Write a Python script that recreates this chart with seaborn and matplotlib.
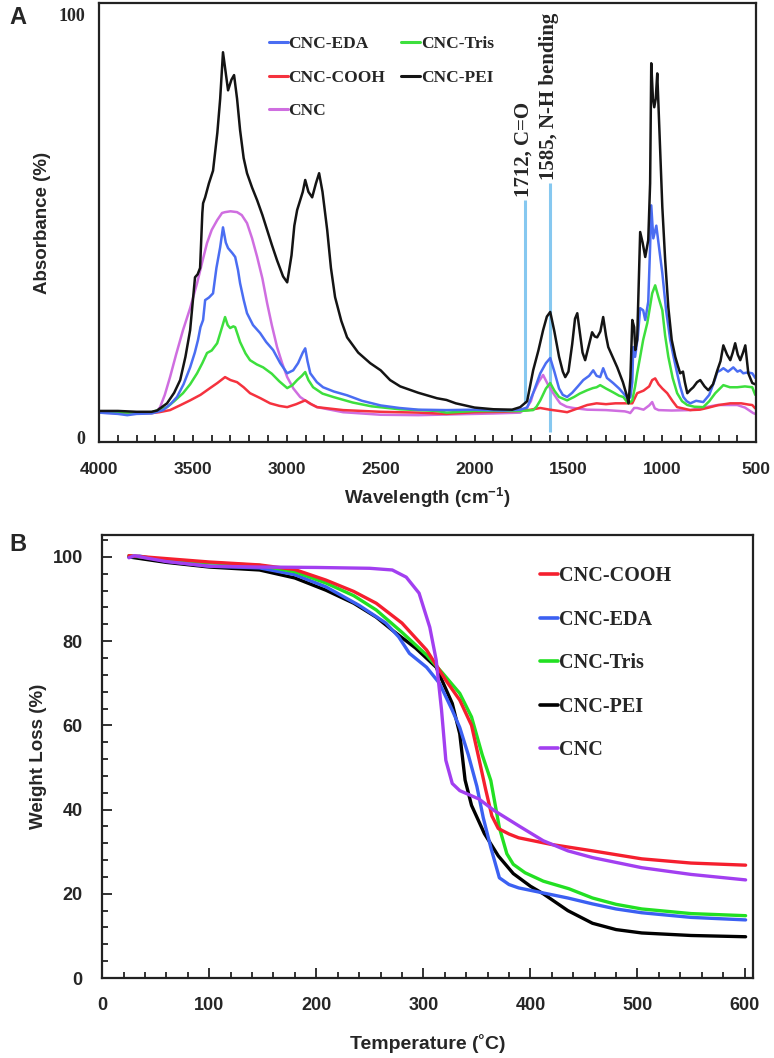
import numpy as np
import pandas as pd
import matplotlib.pyplot as plt
import seaborn as sns
from matplotlib.lines import Line2D
from matplotlib.ticker import MultipleLocator

# ---- Panel A: FTIR spectra ----
pei_wn = [4000, 3900, 3800, 3720, 3691, 3638, 3600, 3568, 3540, 3515, 3489, 3475, 3462, 3450, 3446, 3435,
          3415, 3393, 3370, 3355, 3340, 3325, 3313, 3295, 3281, 3265, 3249, 3230, 3212, 3185, 3158, 3130,
          3105, 3080, 3052, 3020, 2998, 2975, 2960, 2945, 2929, 2915, 2902, 2885, 2865, 2845, 2828, 2810,
          2785, 2765, 2743, 2710, 2679, 2620, 2556, 2500, 2450, 2396, 2300, 2200, 2150, 2100, 2000, 1900,
          1800, 1757, 1720, 1688, 1660, 1635, 1615, 1597, 1575, 1550, 1530, 1517, 1500, 1480, 1465, 1453,
          1440, 1425, 1411, 1395, 1374, 1360, 1347, 1330, 1315, 1300, 1288, 1265, 1240, 1210, 1187, 1180,
          1170, 1160, 1150, 1144, 1134, 1118, 1105, 1091, 1075, 1065, 1059, 1050, 1043, 1035, 1027, 1015,
          1000, 985, 968, 950, 931, 918, 905, 890, 880, 867, 850, 835, 815, 798, 775, 755, 730, 707, 690,
          675, 655, 638, 625, 612, 598, 585, 570, 558, 542, 521, 505]
pei_abs = [6.2, 6.2, 6.0, 6.0, 6.3, 8, 10.5, 13.5, 19, 25.3, 37.8, 38.5, 40, 53, 55.3, 56.7,
           60, 63, 72, 80, 91, 86, 82, 84.5, 85.6, 80, 72.6, 66, 62.4, 59, 56, 52.5,
           49, 45.5, 41.8, 38, 36.6, 43, 50, 53.7, 56, 58, 60.8, 58, 56.7, 60, 62.4, 58,
           49, 40, 33.1, 27.5, 23.6, 20, 17.5, 15.8, 13.5, 12, 10.5, 9.2, 8.8, 8.0, 7.0, 6.6,
           6.5, 7.1, 8.5, 15.8, 20.5, 25.3, 28.5, 29.6, 25, 19, 15.5, 14.2, 15.5, 22, 28, 29.3,
           25, 20, 18.2, 21, 24.8, 23.8, 23.6, 25, 28.4, 24, 21.3, 19, 16.5, 13, 9.5, 8,
           14, 27.7, 26, 20.6, 23, 48.5, 46, 42.6, 46.6, 60, 88.4, 80, 78, 80, 86, 72,
           54.4, 42, 30.7, 23, 19, 17, 15.1, 15.5, 13, 10.4, 11.2, 11.8, 13, 13.5, 12, 11.1, 12.5, 15.8, 18,
           21.7, 19.5, 18.2, 20, 22.2, 19.5, 18.2, 20, 21.7, 15.1, 12.8, 12.5]

eda_wn = [4000, 3900, 3850, 3800, 3720, 3659, 3620, 3585, 3550, 3515, 3490, 3473, 3460, 3446, 3435, 3415,
          3393, 3375, 3355, 3340, 3325, 3313, 3290, 3275, 3260, 3249, 3230, 3212, 3180, 3142, 3110, 3073,
          3035, 2998, 2980, 2966, 2940, 2915, 2902, 2890, 2875, 2840, 2807, 2750, 2679, 2600, 2500, 2400,
          2300, 2150, 2000, 1850, 1757, 1720, 1688, 1650, 1620, 1597, 1575, 1550, 1530, 1507, 1480, 1450,
          1421, 1390, 1368, 1350, 1331, 1315, 1295, 1262, 1230, 1208, 1182, 1170, 1160, 1155, 1145, 1130,
          1118, 1102, 1091, 1075, 1065, 1059, 1048, 1032, 1015, 1000, 980, 958, 940, 921, 905, 888, 870,
          851, 820, 782, 750, 725, 707, 690, 675, 650, 622, 600, 585, 569, 545, 521, 505]
eda_abs = [5.8, 5.5, 5.2, 5.5, 5.6, 6.4, 7.8, 9.5, 12.5, 16.5, 20, 23, 26, 27.7, 32.4, 33,
           34, 40, 44.9, 49.6, 46, 44.7, 43.5, 42.6, 39.5, 36.4, 32.5, 29.3, 26.5, 24.6, 22.5, 20.6,
           17.5, 15.1, 15.5, 15.8, 17.5, 20, 21, 18, 15.1, 13, 11.8, 10.8, 9.9, 8.6, 7.5, 6.9,
           6.5, 6.4, 6.5, 6.3, 6.5, 7.0, 10.4, 15.1, 17.5, 18.7, 15.5, 11.5, 10, 9.5, 10.5, 12,
           13.5, 14.5, 15.8, 14.5, 14.2, 16.3, 14, 12.8, 11.5, 10.4, 9, 9.5, 13, 21.3, 19, 24,
           30.5, 30, 27.7, 32, 45, 54.8, 47, 50, 44, 38.8, 30, 23, 19, 15.1, 12, 9.5, 8.5,
           8, 8.6, 8.3, 10, 13, 15.4, 15.8, 16.3, 15.5, 16.5, 15.5, 15.8, 15.1, 15.3, 15.1, 14]

tris_wn = [4000, 3850, 3720, 3638, 3600, 3553, 3515, 3478, 3450, 3425, 3400, 3371, 3345, 3329, 3315, 3302,
           3285, 3275, 3260, 3249, 3220, 3196, 3160, 3126, 3080, 3040, 2998, 2970, 2945, 2920, 2902, 2885,
           2860, 2810, 2753, 2650, 2550, 2400, 2200, 2150, 2000, 1850, 1757, 1720, 1688, 1670, 1650, 1620,
           1597, 1575, 1550, 1507, 1470, 1440, 1400, 1370, 1350, 1331, 1300, 1262, 1230, 1208, 1182, 1170,
           1160, 1145, 1134, 1118, 1102, 1080, 1065, 1054, 1038, 1020, 1000, 985, 968, 945, 921, 895, 867,
           830, 782, 750, 718, 700, 675, 640, 601, 560, 521, 505]
tris_abs = [6.0, 5.8, 5.9, 7.1, 8.5, 10.4, 12.5, 15.1, 17.5, 19.9, 20.5, 22.2, 26, 28.4, 26.5, 25.8,
            26.2, 26, 24, 22.5, 19.8, 18.2, 17.2, 16.5, 15, 13.2, 11.6, 12.3, 13.5, 14.5, 15.4, 13.5,
            11.8, 10.3, 9.5, 8.2, 7.3, 6.6, 6.2, 5.8, 6.2, 6.2, 6.2, 6.3, 6.4, 7.2, 8.7, 11.5,
            12.8, 11, 9.5, 8.7, 9.5, 10.3, 11.1, 11.6, 11.8, 12.3, 11.5, 10.6, 9.8, 9.5, 8, 8.3,
            8.7, 12, 15.1, 19, 23, 27, 31, 34, 35.9, 33, 30, 24, 19, 14, 10.4, 8.5, 7.6,
            7.2, 7.1, 8.5, 10.4, 11.2, 12.3, 11.8, 11.8, 12, 11.8, 10]

cooh_wn = [4000, 3850, 3720, 3680, 3622, 3570, 3515, 3460, 3409, 3370, 3329, 3300, 3265, 3230, 3196, 3140,
           3089, 3040, 2998, 2950, 2902, 2870, 2839, 2700, 2500, 2300, 2150, 2000, 1850, 1757, 1700, 1650,
           1600, 1550, 1507, 1450, 1400, 1350, 1300, 1250, 1208, 1182, 1160, 1134, 1100, 1070, 1054, 1038,
           1020, 1000, 974, 945, 921, 890, 851, 800, 761, 700, 638, 580, 540, 521, 505]
cooh_abs = [5.9, 5.6, 5.7, 5.9, 6.4, 7.5, 8.7, 10, 11.6, 12.8, 14.2, 13.5, 13, 11.8, 10.4, 9.2,
            8, 7.4, 7.1, 7.8, 8.7, 7.8, 7.1, 6.4, 6.0, 5.8, 5.5, 5.9, 6.0, 6.2, 6.5, 6.9,
            6.5, 6.2, 5.9, 6.8, 7.6, 8, 7.8, 8, 8, 8, 8, 10.4, 11, 12, 13.5, 13.9,
            12.5, 11.5, 10.4, 8.5, 7.1, 6.8, 6.4, 6.5, 6.9, 7.6, 8, 8, 7.7, 7.6, 6.8]

cnc_wn = [4000, 3850, 3720, 3690, 3675, 3650, 3622, 3590, 3553, 3515, 3478, 3450, 3425, 3400, 3371, 3345,
          3329, 3300, 3265, 3240, 3212, 3185, 3158, 3130, 3105, 3080, 3052, 3025, 2998, 2965, 2929, 2880,
          2839, 2700, 2500, 2300, 2100, 1900, 1757, 1720, 1700, 1688, 1660, 1635, 1610, 1581, 1560, 1544,
          1510, 1475, 1400, 1300, 1200, 1182, 1171, 1150, 1134, 1100, 1070, 1054, 1040, 1020, 950, 851,
          780, 707, 650, 601, 560, 516, 505]
cnc_abs = [5.8, 5.6, 5.8, 6.2, 7.1, 10, 14.2, 19.5, 25.3, 30.5, 36.4, 41.5, 45.9, 49, 51.3, 53,
           53.2, 53.4, 53.2, 52.5, 50.6, 47, 42.6, 37.5, 31.7, 26.5, 21.3, 17.5, 14.2, 11.5, 9.5, 8.0,
           7.1, 5.9, 5.3, 5.2, 5.4, 5.6, 5.8, 7.1, 8.5, 10.4, 13, 14.7, 12.5, 10.4, 9, 8,
           7.2, 6.9, 6.5, 6.4, 6.1, 5.9, 5.7, 6.9, 6.9, 6.5, 7.5, 8.3, 6.8, 6.4, 6.3, 6.4,
           7, 7.6, 7.6, 7.6, 7, 5.7, 5.5]

band_pos = [1730, 1598]
band_low = [8, 1.2]
band_high = [56, 60]
band_text = ['1712, C=O', '1585, N-H bending']

# ---- Panel B: TGA curves ----
cooh_t = [25, 60, 100, 147, 180, 209, 235, 256, 280, 303, 321, 334, 345, 352, 358, 364, 370, 380, 389,
          420, 458, 504, 550, 601]
cooh_w = [100.3, 99.6, 98.8, 98.1, 97, 94.5, 91.8, 89, 84.3, 77.9, 70.7, 66, 60, 52, 45, 38.5, 35.5,
          34.2, 33.3, 31.7, 30.2, 28.3, 27.3, 26.8]
eda_t = [25, 35, 60, 100, 147, 180, 209, 240, 265, 277, 287, 303, 315, 327, 334, 342, 350, 356, 363,
         371, 380, 389, 412, 435, 458, 480, 504, 550, 601]
eda_w = [100, 100.2, 99, 97.8, 97.4, 95.8, 92.9, 88.5, 84.3, 81, 77.1, 73.8, 70, 63.6, 59.5, 53, 45.5,
         38, 31, 23.8, 22.2, 21.4, 20.2, 19, 17.6, 16.4, 15.5, 14.4, 13.8]
tris_t = [25, 60, 100, 147, 180, 209, 235, 256, 280, 303, 318, 334, 345, 355, 363, 371, 378, 384, 395,
          412, 436, 458, 480, 504, 550, 601]
tris_w = [100.3, 99.3, 98.6, 98, 96.5, 93.8, 90.8, 87.4, 82.1, 76.7, 72.4, 67.6, 62, 53, 46.9, 35.7,
          29.5, 27, 25, 23, 21.2, 19, 17.5, 16.4, 15.3, 14.8]
pei_t = [25, 60, 100, 147, 180, 209, 235, 256, 271, 293, 312, 327, 334, 339, 345, 357, 370, 384, 400,
         412, 435, 458, 480, 504, 550, 601]
pei_w = [100, 98.7, 97.6, 96.9, 95, 92.1, 89, 85.7, 82.6, 78.3, 73.8, 65.2, 58, 47, 41, 34.3, 29, 24.8,
         21.8, 20, 16, 13, 11.5, 10.7, 10.1, 9.8]
cnc_t = [25, 30, 40, 60, 100, 147, 200, 250, 271, 284, 296, 306, 312, 317, 321, 327, 334, 352, 366,
         390, 412, 435, 458, 504, 550, 601]
cnc_w = [99.8, 100.3, 99.8, 98.9, 97.8, 97.6, 97.5, 97.3, 96.9, 95.2, 91.4, 83.3, 75.5, 63.6, 51.7,
         46.2, 44.5, 42.5, 39.8, 36, 32.6, 30.2, 28.6, 26.2, 24.6, 23.3]

# long tables for seaborn
df_a = pd.concat([
    pd.DataFrame({'wn': cnc_wn, 'abs': cnc_abs, 'sample': 'CNC'}),
    pd.DataFrame({'wn': cooh_wn, 'abs': cooh_abs, 'sample': 'CNC-COOH'}),
    pd.DataFrame({'wn': tris_wn, 'abs': tris_abs, 'sample': 'CNC-Tris'}),
    pd.DataFrame({'wn': eda_wn, 'abs': eda_abs, 'sample': 'CNC-EDA'}),
    pd.DataFrame({'wn': pei_wn, 'abs': pei_abs, 'sample': 'CNC-PEI'}),
])
df_b = pd.concat([
    pd.DataFrame({'t': pei_t, 'w': pei_w, 'sample': 'CNC-PEI'}),
    pd.DataFrame({'t': eda_t, 'w': eda_w, 'sample': 'CNC-EDA'}),
    pd.DataFrame({'t': tris_t, 'w': tris_w, 'sample': 'CNC-Tris'}),
    pd.DataFrame({'t': cooh_t, 'w': cooh_w, 'sample': 'CNC-COOH'}),
    pd.DataFrame({'t': cnc_t, 'w': cnc_w, 'sample': 'CNC'}),
])

colors_a = {'CNC-EDA': '#4a6df2', 'CNC-COOH': '#f5323e', 'CNC': '#cf6ee0',
            'CNC-Tris': '#3ddf3d', 'CNC-PEI': '#141414'}
colors_b = {'CNC-COOH': '#f51f2e', 'CNC-EDA': '#3b60f2', 'CNC-Tris': '#22e022',
            'CNC-PEI': '#000000', 'CNC': '#a23ff0'}

sns.set_style('white')
plt.rcParams['font.family'] = ['Liberation Sans', 'DejaVu Sans']
plt.rcParams['mathtext.fontset'] = 'custom'
plt.rcParams['mathtext.bf'] = 'Liberation Sans:bold'

fig = plt.figure(figsize=(7.74, 10.58), dpi=100)
ax1 = fig.add_axes([0.128, 0.582, 0.849, 0.415])
ax2 = fig.add_axes([0.132, 0.0756, 0.841, 0.4187])

serif_b = dict(family=['Liberation Serif', 'DejaVu Serif'], weight='bold')

# ---- A ----
sns.lineplot(data=df_a, x='wn', y='abs', hue='sample', palette=colors_a,
             hue_order=['CNC', 'CNC-COOH', 'CNC-Tris', 'CNC-EDA', 'CNC-PEI'],
             estimator=None, lw=1.8, legend=False, ax=ax1)
ax1.vlines(band_pos, band_low, band_high, colors='#86c8f0', lw=2.2, zorder=1)
for x, top, txt in zip(band_pos, band_high, band_text):
    ax1.text(x + 8, top + 0.8, txt, rotation=90, ha='center', va='bottom', fontsize=15, **serif_b)

ax1.set_xlim(4000, 500)
ax1.set_ylim(-1.2, 102.6)
ax1.set_yticks([0, 100])
ax1.set_yticklabels(['0', '100'], fontsize=13, **serif_b)
ax1.xaxis.set_major_locator(MultipleLocator(500))
ax1.xaxis.set_minor_locator(MultipleLocator(100))
ax1.tick_params(axis='x', which='both', direction='in', length=5, width=1.3, color='#222222',
                bottom=True, labelsize=12.5, pad=14)
ax1.tick_params(axis='y', length=0, pad=10)
for lab in ax1.get_xticklabels():
    lab.set_fontweight('bold')
ax1.set_xlabel('Wavelength (cm$^{\\mathbf{-1}}$)', fontsize=13.5, fontweight='bold', labelpad=6)
ax1.set_ylabel('Absorbance (%)', fontsize=13.5, fontweight='bold', labelpad=5)

order_a = ['CNC-EDA', 'CNC-COOH', 'CNC', 'CNC-Tris', 'CNC-PEI']
h_a = [Line2D([], [], color=colors_a[k], lw=2.2) for k in order_a]
ax1.legend(h_a, order_a, ncol=2, loc='upper left', bbox_to_anchor=(0.258, 0.925), frameon=False,
           handlelength=1.1, handletextpad=0.05, columnspacing=0.9, labelspacing=1.0,
           borderpad=0, borderaxespad=0, prop=dict(size=12.5, **serif_b))

# ---- B ----
sns.lineplot(data=df_b, x='t', y='w', hue='sample', palette=colors_b,
             hue_order=['CNC-PEI', 'CNC-EDA', 'CNC-Tris', 'CNC-COOH', 'CNC'],
             estimator=None, lw=2.4, legend=False, ax=ax2)
ax2.set_xlim(0, 608)
ax2.set_ylim(0, 105.2)
ax2.xaxis.set_major_locator(MultipleLocator(100))
ax2.xaxis.set_minor_locator(MultipleLocator(20))
ax2.yaxis.set_major_locator(MultipleLocator(20))
ax2.yaxis.set_minor_locator(MultipleLocator(4))
ax2.tick_params(which='major', direction='in', length=7, width=1.3, color='#222222',
                bottom=True, left=True)
ax2.tick_params(which='minor', direction='in', length=4, width=1.3, color='#222222',
                bottom=True, left=True)
ax2.tick_params(axis='x', pad=14)
ax2.tick_params(axis='y', pad=14)
for lab in ax2.get_xticklabels() + ax2.get_yticklabels():
    lab.set_fontsize(13)
    lab.set_fontweight('bold')
ax2.set_xlabel('Temperature (˚C)', fontsize=14, fontweight='bold', labelpad=14)
ax2.set_ylabel('Weight Loss (%)', fontsize=13.5, fontweight='bold', labelpad=4)

order_b = ['CNC-COOH', 'CNC-EDA', 'CNC-Tris', 'CNC-PEI', 'CNC']
h_b = [Line2D([], [], color=colors_b[k], lw=2.6) for k in order_b]
ax2.legend(h_b, order_b, loc='upper left', bbox_to_anchor=(0.672, 0.93), frameon=False,
           handlelength=0.9, handletextpad=0.05, labelspacing=1.17,
           borderpad=0, borderaxespad=0, prop=dict(size=14.5, **serif_b))

for ax in (ax1, ax2):
    for sp in ax.spines.values():
        sp.set_visible(True)
        sp.set_color('#222222')
        sp.set_linewidth(1.6)

fig.text(0.012, 0.983, 'A', fontsize=17, fontweight='bold', va='center')
fig.text(0.012, 0.485, 'B', fontsize=17, fontweight='bold', va='center')

fig.savefig('out.png', dpi=100)
